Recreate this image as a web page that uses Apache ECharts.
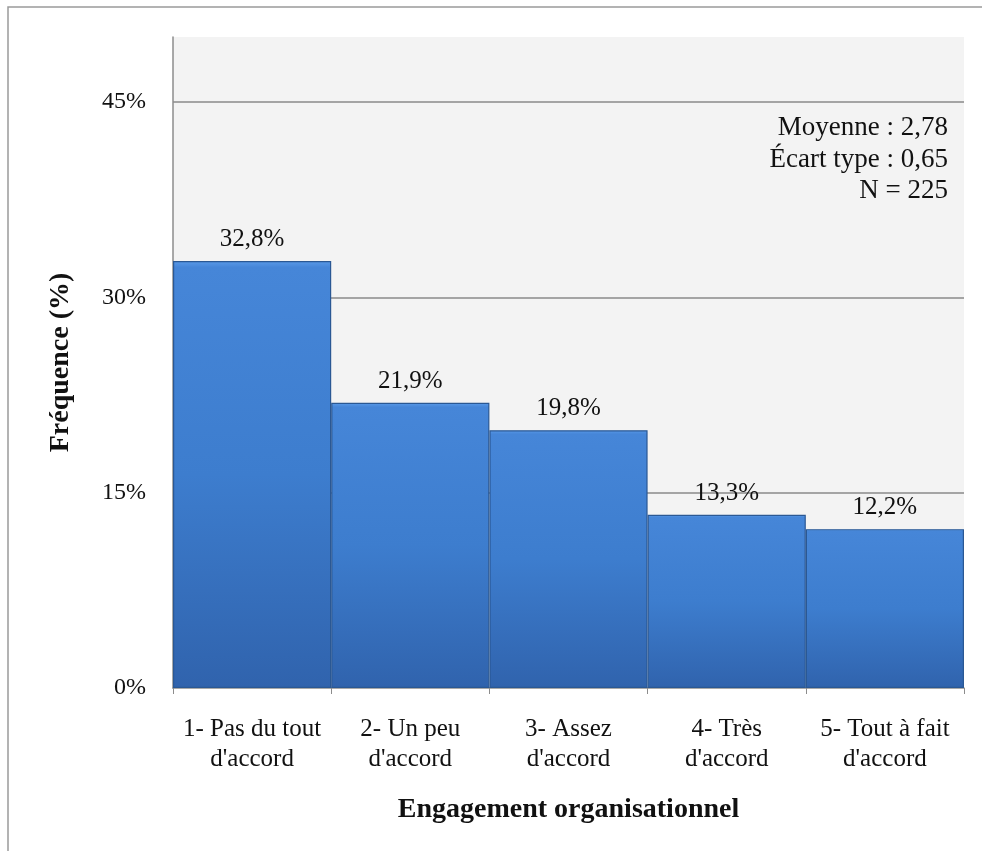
<!DOCTYPE html>
<html>
<head>
<meta charset="utf-8">
<script src="https://cdn.jsdelivr.net/npm/echarts@6/dist/echarts.min.js"></script>
<style>
  html, body { margin: 0; padding: 0; background: #ffffff; }
  #chart { width: 982px; height: 851px; }
</style>
</head>
<body>
<div id="chart"></div>
<script>
// Response categories (Likert scale) and their frequencies in percent
const categories = [
  "1- Pas du tout\nd'accord",
  "2- Un peu\nd'accord",
  "3- Assez\nd'accord",
  "4- Très\nd'accord",
  "5- Tout à fait\nd'accord"
];
const frequencies = [32.8, 21.9, 19.8, 13.3, 12.2];
const yTicks = [0, 15, 30, 45];
const statsLines = ["Moyenne : 2,78", "Écart type : 0,65", "N = 225"];

const serif = "'Liberation Serif', 'Times New Roman', serif";
const chart = echarts.init(document.getElementById('chart'), null, { renderer: 'canvas' });

const fmt = v => v.toFixed(1).replace('.', ',') + '%';

// Summary statistics, right-aligned in the upper right of the plot
const statsGraphics = statsLines.map((line, i) => ({
  type: 'text', silent: true, z: 10,
  x: 948, y: 128 + i * 31.5,
  style: {
    text: line, font: '27px ' + serif, fill: '#111',
    align: 'right', textAlign: 'right', verticalAlign: 'middle', textVerticalAlign: 'middle'
  }
}));

chart.setOption({
  backgroundColor: '#ffffff',
  animation: false,
  grid: {
    left: 173, right: 18, top: 37, bottom: 163,
    show: true, backgroundColor: '#f3f3f3', borderWidth: 0
  },
  graphic: [
    {
      type: 'rect', silent: true,
      shape: { x: 8, y: 7, width: 1000, height: 900 },
      style: { fill: 'none', stroke: '#9a9a9a', lineWidth: 1.5 }
    }
  ].concat(statsGraphics),
  xAxis: {
    type: 'category',
    data: categories,
    name: 'Engagement organisationnel',
    nameLocation: 'middle',
    nameGap: 108,
    nameTextStyle: { fontFamily: serif, fontSize: 28, fontWeight: 'bold', color: '#111' },
    axisLine: { lineStyle: { color: '#8c8c8c', width: 1.5 } },
    axisTick: { show: true, length: 6, lineStyle: { color: '#8c8c8c' } },
    axisLabel: { fontFamily: serif, fontSize: 25, color: '#111', margin: 26, lineHeight: 30, interval: 0 }
  },
  yAxis: {
    type: 'value',
    min: 0, max: 50, interval: 15,
    name: 'Fréquence (%)',
    nameLocation: 'middle',
    nameGap: 98,
    nameRotate: 90,
    nameTextStyle: { fontFamily: serif, fontSize: 28, fontWeight: 'bold', color: '#111' },
    axisLine: { show: true, lineStyle: { color: '#8c8c8c', width: 1.5 } },
    axisTick: { show: false },
    axisLabel: {
      fontFamily: serif, fontSize: 24, color: '#111', margin: 27,
      showMaxLabel: false,
      formatter: v => (yTicks.indexOf(v) >= 0 ? v + '%' : '')
    },
    splitLine: {
      show: true, showMinLine: false, showMaxLine: false,
      lineStyle: { color: '#8a8a8a', width: 1.5 }
    }
  },
  series: [{
    type: 'bar',
    data: frequencies,
    barCategoryGap: 0,
    barGap: 0,
    itemStyle: {
      color: new echarts.graphic.LinearGradient(0, 0, 0, 1, [
        { offset: 0, color: '#5a9ae8' },
        { offset: 0.015, color: '#4686d8' },
        { offset: 0.5, color: '#3d7dce' },
        { offset: 1, color: '#3063ad' }
      ]),
      borderColor: '#2a5894',
      borderWidth: 1.2
    },
    label: {
      show: true, position: 'top', distance: 9,
      fontFamily: serif, fontSize: 25, color: '#111',
      formatter: p => fmt(p.value)
    }
  }]
});
</script>
</body>
</html>
